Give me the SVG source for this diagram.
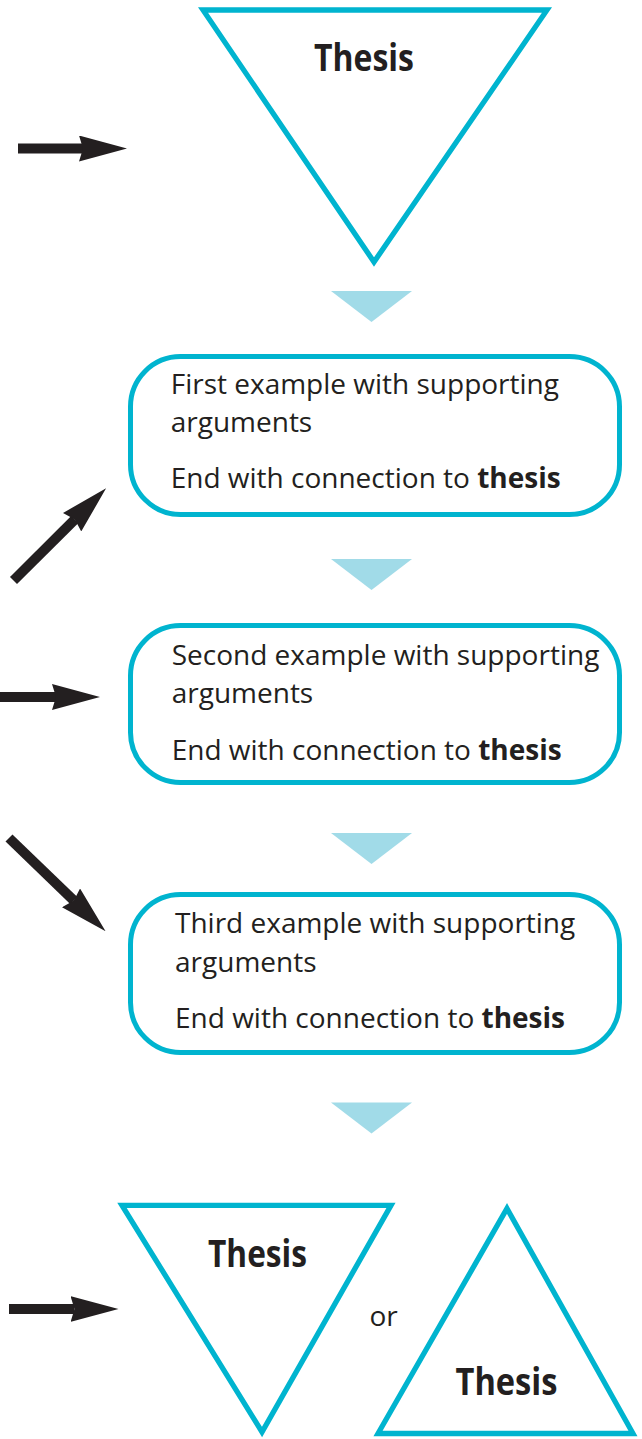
<svg xmlns="http://www.w3.org/2000/svg" width="642" height="1439" viewBox="0 0 642 1439">
<defs>
<style>
.tri{fill:none;stroke:#00b4cf;stroke-width:5.3;stroke-linejoin:miter;stroke-miterlimit:10}
.box{fill:#fff;stroke:#00b4cf;stroke-width:5}
.step{fill:#a1dbe8}
.body{font-family:"Open Sans","Liberation Sans",sans-serif;font-size:28px;fill:#231f20}
.b{font-weight:bold}
.title{font-family:"Open Sans","Liberation Sans",sans-serif;font-size:37px;font-weight:bold;fill:#231f20}
.conn{stroke:#231f20;stroke-width:10;fill:none;marker-end:url(#head)}
</style>
<marker id="head" viewBox="0 0 48 26" refX="4" refY="13" markerWidth="48" markerHeight="26" markerUnits="userSpaceOnUse" orient="auto">
<path d="M0,0 L48,13 L0,26 L4,13 Z" fill="#231f20"/>
</marker>
<path id="stepTri" d="M331,0 L412,0 L371.5,31 Z"/>
</defs>
<rect width="642" height="1439" fill="#fff"/>

<g id="thesis-top">
<path class="tri" d="M203,10 L547,10 L374,262 Z"/>
<text class="title" x="314" y="70.7" textLength="100" lengthAdjust="spacingAndGlyphs">Thesis</text>
</g>

<g id="step-markers">
<use href="#stepTri" class="step" transform="translate(0,291)"/>
<use href="#stepTri" class="step" transform="translate(0,559)"/>
<use href="#stepTri" class="step" transform="translate(0,833)"/>
<use href="#stepTri" class="step" transform="translate(0,1102.5)"/>
</g>

<g id="example-1">
<rect class="box" x="130.5" y="356.5" width="489" height="158" rx="50" ry="50"/>
<text class="body" x="170.7" y="394">First example with supporting</text>
<text class="body" x="170.7" y="432">arguments</text>
<text class="body" x="170.7" y="488">End with connection to <tspan class="b">thesis</tspan></text>
</g>

<g id="example-2">
<rect class="box" x="130.5" y="625.5" width="489" height="157" rx="50" ry="50"/>
<text class="body" x="171.7" y="665">Second example with supporting</text>
<text class="body" x="171.7" y="703">arguments</text>
<text class="body" x="171.7" y="760">End with connection to <tspan class="b">thesis</tspan></text>
</g>

<g id="example-3">
<rect class="box" x="130.5" y="894.5" width="489" height="158" rx="50" ry="50"/>
<text class="body" x="175" y="933">Third example with supporting</text>
<text class="body" x="175" y="971.7">arguments</text>
<text class="body" x="175" y="1028">End with connection to <tspan class="b">thesis</tspan></text>
</g>

<g id="thesis-down">
<path class="tri" d="M122,1205.3 L391,1205.3 L262,1432 Z"/>
<text class="title" x="208" y="1266.7" textLength="99" lengthAdjust="spacingAndGlyphs">Thesis</text>
</g>

<g id="or-label">
<text class="body" x="369.5" y="1325.7">or</text>
</g>

<g id="thesis-up">
<path class="tri" d="M507,1208.5 L633,1433.5 L378,1433.5 Z"/>
<text class="title" x="455.5" y="1395" textLength="102" lengthAdjust="spacingAndGlyphs">Thesis</text>
</g>

<g id="connectors">
<line class="conn" x1="18" y1="148.5" x2="83" y2="148.5"/>
<line class="conn" x1="13.5" y1="580.5" x2="74.9" y2="519.4"/>
<line class="conn" x1="0" y1="697" x2="56" y2="697"/>
<line class="conn" x1="9" y1="838" x2="73.9" y2="900.6"/>
<line class="conn" x1="9" y1="1309" x2="74.5" y2="1309"/>
</g>
</svg>
